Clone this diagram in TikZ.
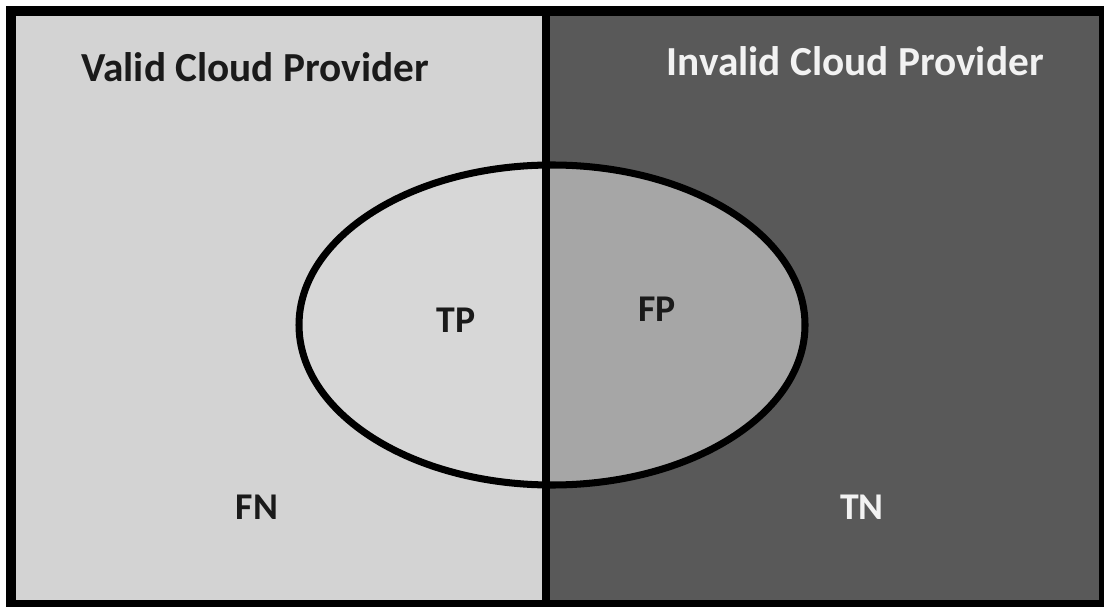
\documentclass[tikz,border=0pt]{standalone}
\usepackage{fontspec}
\setmainfont{Carlito}
\definecolor{ValidGray}{HTML}{D3D3D3}
\definecolor{ValidInner}{HTML}{D7D7D7}
\definecolor{InvalidGray}{HTML}{595959}
\definecolor{InvalidInner}{HTML}{A6A6A6}
\definecolor{InkDark}{HTML}{1A1A1A}
\definecolor{InkLight}{HTML}{F2F2F2}
\usetikzlibrary{positioning}

\begin{document}
\begin{tikzpicture}[
    x=0.02cm, y=-0.02cm,
    regiontitle/.style={font=\bfseries\fontsize{23.5}{28}\selectfont, inner sep=0pt},
    cellname/.style={font=\bfseries\fontsize{21.5}{26}\selectfont, inner sep=0pt}
  ]
    \useasboundingbox (0,0) rectangle (1104,607);
    \fill[white] (0,0) rectangle (1104,607);
    % the two halves
    \fill[ValidGray] (11,11) rectangle (546,605);
    \fill[InvalidGray] (546,11) rectangle (1104,605);
    % predicted valid: the ellipse
    \begin{scope}
      \clip (552,325) ellipse [x radius=253, y radius=160];
      \fill[ValidInner] (290,150) rectangle (546,500);
      \fill[InvalidInner] (546,150) rectangle (815,500);
    \end{scope}
    \draw[line width=4pt] (552,325) ellipse [x radius=253, y radius=160];
    \draw[line width=4.5pt] (546,11) -- (546,605);
    \draw[line width=5.7pt] (11,11) rectangle (1104,605);
    % labels
    \node[regiontitle, text=InkDark] (valid) at (255,67) {Valid Cloud Provider};
    \node[regiontitle, text=InkLight] (invalid) at (855,61) {Invalid Cloud Provider};
    \node[cellname, text=InkDark] (tp) at (456,320) {TP};
    \node[cellname, text=InkDark] (fp) at (657,309) {FP};
    \node[cellname, text=InkDark] (fn) at (257,507) {FN};
    \node[cellname, text=InkLight] (tn) at (862,507) {TN};
\end{tikzpicture}
\end{document}
